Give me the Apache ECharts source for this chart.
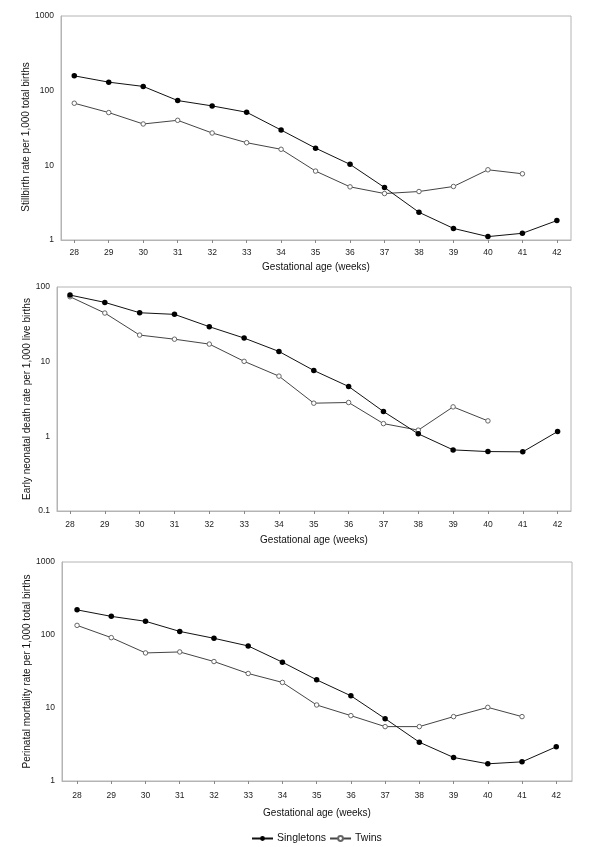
<!DOCTYPE html>
<html>
<head>
<meta charset="utf-8">
<script src="https://cdn.jsdelivr.net/npm/echarts@6/dist/echarts.min.js"></script>
<style>
html,body{margin:0;padding:0;background:#fff;}
#chart{width:600px;height:847px;}
</style>
</head>
<body>
<div id="chart"></div>
<script>
// ---- data ----
const weeks = [28, 29, 30, 31, 32, 33, 34, 35, 36, 37, 38, 39, 40, 41, 42];
const weekTicks = [28, 29, 30, 31, 32, 33, 34, 35, 36, 37, 38, 39, 40, 41, 42];
const stillSingle = [158, 130, 114, 73.7, 62.5, 51.4, 29.7, 17.0, 10.3, 5.05, 2.35, 1.43, 1.11, 1.23, 1.82];
const stillTwin   = [67.9, 50.9, 35.8, 40.1, 27.1, 20.1, 16.4, 8.37, 5.15, 4.19, 4.46, 5.21, 8.72, 7.71];
const neoSingle   = [78, 62.2, 45.2, 43.0, 29.4, 20.7, 13.7, 7.62, 4.65, 2.15, 1.08, 0.658, 0.625, 0.62, 1.16];
const neoTwin     = [74.1, 44.8, 22.7, 20.0, 17.2, 10.1, 6.40, 2.78, 2.84, 1.48, 1.21, 2.48, 1.61];
const periSingle  = [221, 180, 154, 112, 90.1, 70.8, 42.4, 24.3, 14.7, 7.15, 3.40, 2.10, 1.72, 1.83, 2.94];
const periTwin    = [135.5, 92, 56.8, 58.6, 43.3, 29.7, 22.4, 11.0, 7.86, 5.56, 5.56, 7.62, 10.2, 7.62];
const yTicksA = [1, 10, 100, 1000];
const yTicksB = [0.1, 1, 10, 100];
const yNames = ['Stillbirth rate per 1,000 total births',
                'Early neonatal death rate per 1,000 live births',
                'Perinatal mortality rate per 1,000 total births'];
const xName = 'Gestational age (weeks)';
const seriesNames = ['Singletons', 'Twins'];

// ---- build ----
const FONT = 'Liberation Sans, Arial, Helvetica, sans-serif';
const pairs = arr => arr.map((v, i) => [weeks[i], v]);

const grids = [
  {left: 61, right: 29, top: 16, height: 224},
  {left: 57, right: 29, top: 287, height: 224},
  {left: 62, right: 28, top: 562, height: 219}
];
const xRanges = [[27.615, 42.41], [27.627, 42.385], [27.56, 42.46]];
const xLabelMargins = [8, 9, 10];
const xNameGaps = [22, 24, 27];
const yNameGaps = [30, 25, 30];
const yRanges = [[1, 1000], [0.1, 100], [1, 1000]];
const yTickSets = [yTicksA, yTicksB, yTicksA];
const yNamePad = [[0, 18, 0, 0], [0, 0, 0, 0], [0, 0, 0, 0]];

const option = {
  backgroundColor: '#fff',
  animation: false,
  textStyle: {fontFamily: FONT},
  grid: grids.map(g => Object.assign({show: true, borderColor: '#b4b4b4', borderWidth: 1, backgroundColor: 'transparent'}, g)),
  xAxis: grids.map((g, i) => ({
    type: 'value', gridIndex: i, min: xRanges[i][0], max: xRanges[i][1],
    name: xName, nameLocation: 'middle', nameGap: xNameGaps[i],
    nameTextStyle: {fontSize: 10, color: '#111', fontFamily: FONT},
    axisLine: {show: true, lineStyle: {color: '#b4b4b4', width: 1}},
    axisTick: {show: true, customValues: weekTicks, length: 3, lineStyle: {color: '#888'}},
    axisLabel: {customValues: weekTicks, fontSize: 8.5, color: '#222', margin: xLabelMargins[i], fontFamily: FONT},
    splitLine: {show: false}
  })),
  yAxis: grids.map((g, i) => ({
    type: 'log', logBase: 10, gridIndex: i, min: yRanges[i][0], max: yRanges[i][1],
    name: yNames[i], nameLocation: 'middle', nameGap: yNameGaps[i], nameRotate: 90,
    nameMoveOverlap: false,
    nameTextStyle: {fontSize: 10, color: '#111', fontFamily: FONT, padding: yNamePad[i]},
    axisLine: {show: true, lineStyle: {color: '#b4b4b4', width: 1}},
    axisTick: {show: false},
    axisLabel: {customValues: yTickSets[i], fontSize: 8.5, color: '#222', margin: 7, fontFamily: FONT,
                formatter: v => String(v)},
    splitLine: {show: false}
  })),
  legend: {
    data: seriesNames, left: 246, top: 828, itemWidth: 21, itemHeight: 6, itemGap: 3,
    textStyle: {fontSize: 10.5, color: '#111', fontFamily: FONT, padding: [0, 0, 0, -1]}
  },
  series: []
};

const sets = [[stillSingle, stillTwin], [neoSingle, neoTwin], [periSingle, periTwin]];
sets.forEach((pair, i) => {
  option.series.push({
    name: 'Singletons', type: 'line', xAxisIndex: i, yAxisIndex: i,
    data: pairs(pair[0]), symbol: 'circle', symbolSize: 5.5, showSymbol: true,
    lineStyle: {color: '#111', width: 1}, itemStyle: {color: '#000', borderColor: '#000', borderWidth: 0},
    color: '#000', z: 3
  });
  option.series.push({
    name: 'Twins', type: 'line', xAxisIndex: i, yAxisIndex: i,
    data: pairs(pair[1]), symbol: 'circle', symbolSize: 4.5, showSymbol: true,
    lineStyle: {color: '#444', width: 1}, itemStyle: {color: '#fff', borderColor: '#666', borderWidth: 1},
    color: '#444', z: 2
  });
});

const chart = echarts.init(document.getElementById('chart'), null, {renderer: 'canvas'});
chart.setOption(option);
</script>
</body>
</html>
